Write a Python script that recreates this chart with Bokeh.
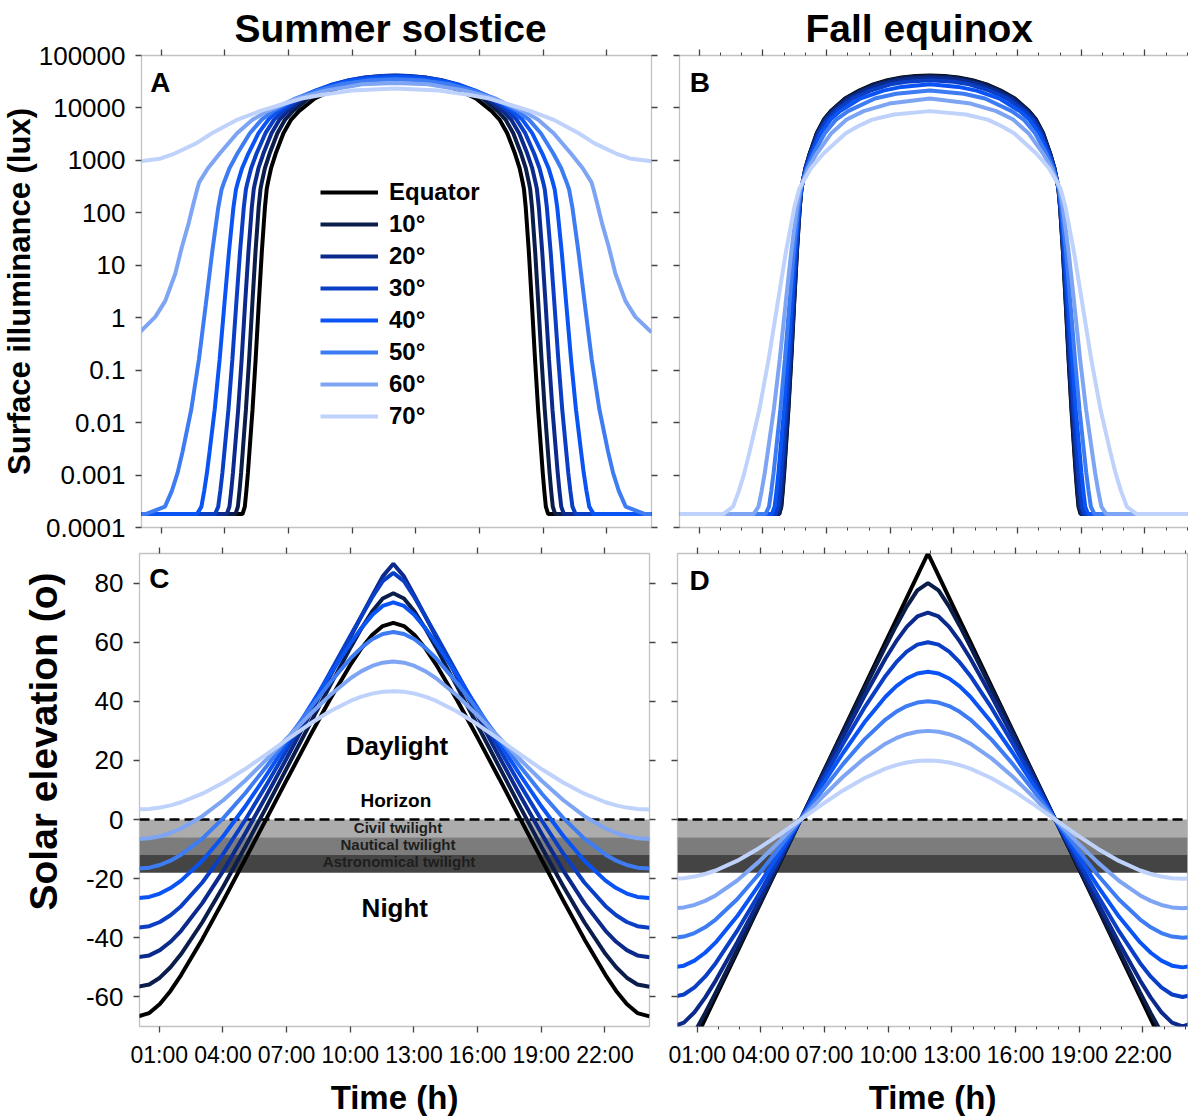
from bokeh.plotting import figure
from bokeh.models import (Range1d, LinearAxis, LogAxis, FixedTicker, Label, Legend,
                          LegendItem, BoxAnnotation, Span, Title)
from bokeh.layouts import column, row
from bokeh.embed import file_html
from bokeh.resources import INLINE

# ---------------------------------------------------------------- data
latitude_labels = ["Equator", "10°", "20°", "30°", "40°", "50°", "60°", "70°"]
latitude_colors = ["#000000", "#0b1d4a", "#0b2a8c", "#0a3ec4", "#0a54f5",
                   "#3d7cf2", "#7ea4f4", "#bfd2fb"]

x_tick_values = [1, 4, 7, 10, 13, 16, 19, 22]
x_tick_labels = ["01:00", "04:00", "07:00", "10:00", "13:00", "16:00", "19:00", "22:00"]
lux_tick_values = [0.0001, 0.001, 0.01, 0.1, 1, 10, 100, 1000, 10000, 100000]
lux_tick_labels = ["0.0001", "0.001", "0.01", "0.1", "1", "10", "100", "1000", "10000", "100000"]
elev_tick_values = [-60, -40, -20, 0, 20, 40, 60, 80]
elev_tick_labels = ["-60", "-40", "-20", "0", "20", "40", "60", "80"]

# Panel A: summer solstice, surface illuminance (lux)
sol_time_00 = [0, 4.828, 4.938, 5.011, 5.084, 5.157, 5.303, 5.448, 5.594, 5.739, 5.885, 5.97, 6.03, 6.175, 6.393, 6.757, 7.122, 7.489, 8.231, 8.995, 9.803, 10.745, 11.257, 12.03,
               12.803, 13.315, 14.257, 15.065, 15.829, 16.571, 16.938, 17.303, 17.667, 17.885, 18.03, 18.09, 18.175, 18.321, 18.466, 18.612, 18.757, 18.903, 18.976, 19.049, 19.122, 19.232, 24.1]
sol_lux_00 = [0.00018, 0.00018, 0.00025, 0.0005, 0.0011, 0.0028, 0.018, 0.16, 1.8, 18, 126, 282, 380, 710, 1350, 3300, 6000, 8700, 15100, 21400, 28200, 33900, 35500, 36600,
              35500, 33900, 28200, 21400, 15100, 8700, 6000, 3300, 1350, 710, 380, 282, 126, 18, 1.8, 0.16, 0.018, 0.0028, 0.0011, 0.0005, 0.00025, 0.00018, 0.00018]
sol_time_10 = [0, 4.497, 4.611, 4.688, 4.763, 4.84, 4.991, 5.141, 5.291, 5.441, 5.589, 5.676, 5.738, 5.885, 6.107, 6.473, 6.838, 7.202, 7.929, 8.657, 9.395, 10.155, 10.996, 11.423, 12.03,
               12.637, 13.064, 13.905, 14.665, 15.403, 16.131, 16.858, 17.222, 17.587, 17.953, 18.175, 18.322, 18.384, 18.471, 18.619, 18.769, 18.919, 19.069, 19.22, 19.297, 19.372, 19.449, 19.563, 24.1]
sol_lux_10 = [0.00018, 0.00018, 0.00025, 0.0005, 0.0011, 0.0028, 0.018, 0.16, 1.8, 18, 126, 282, 380, 710, 1350, 3300, 6000, 8700, 15100, 21400, 28200, 33900, 38000, 39100, 39800,
              39100, 38000, 33900, 28200, 21400, 15100, 8700, 6000, 3300, 1350, 710, 380, 282, 126, 18, 1.8, 0.16, 0.018, 0.0028, 0.0011, 0.0005, 0.00025, 0.00018, 0.00018]
sol_time_20 = [0, 4.086, 4.213, 4.297, 4.379, 4.462, 4.627, 4.789, 4.949, 5.109, 5.267, 5.359, 5.425, 5.581, 5.813, 6.196, 6.575, 6.951, 7.695, 8.43, 9.159, 9.886, 10.613, 11.352, 12.03,
               12.708, 13.447, 14.174, 14.901, 15.63, 16.365, 17.109, 17.485, 17.864, 18.247, 18.479, 18.635, 18.701, 18.793, 18.951, 19.111, 19.271, 19.433, 19.598, 19.681, 19.763, 19.847, 19.974, 24.1]
sol_lux_20 = [0.00018, 0.00018, 0.00025, 0.0005, 0.0011, 0.0028, 0.018, 0.16, 1.8, 18, 126, 282, 380, 710, 1350, 3300, 6000, 8700, 15100, 21400, 28200, 33900, 38000, 40700, 41500,
              40700, 38000, 33900, 28200, 21400, 15100, 8700, 6000, 3300, 1350, 710, 380, 282, 126, 18, 1.8, 0.16, 0.018, 0.0028, 0.0011, 0.0005, 0.00025, 0.00018, 0.00018]
sol_time_30 = [0, 3.535, 3.685, 3.784, 3.881, 3.977, 4.167, 4.351, 4.533, 4.712, 4.889, 4.991, 5.063, 5.236, 5.491, 5.909, 6.318, 6.722, 7.515, 8.294, 9.066, 9.837, 10.617, 11.465, 12.03,
               12.595, 13.443, 14.223, 14.994, 15.766, 16.545, 17.338, 17.742, 18.151, 18.569, 18.824, 18.997, 19.069, 19.171, 19.348, 19.527, 19.709, 19.893, 20.083, 20.179, 20.276, 20.375, 20.525, 24.1]
sol_lux_30 = [0.00018, 0.00018, 0.00025, 0.0005, 0.0011, 0.0028, 0.018, 0.16, 1.8, 18, 126, 282, 380, 710, 1350, 3300, 6000, 8700, 15100, 21400, 28200, 33900, 38000, 40700, 41100,
              40700, 38000, 33900, 28200, 21400, 15100, 8700, 6000, 3300, 1350, 710, 380, 282, 126, 18, 1.8, 0.16, 0.018, 0.0028, 0.0011, 0.0005, 0.00025, 0.00018, 0.00018]
sol_time_40 = [0, 2.685, 2.893, 3.025, 3.153, 3.279, 3.52, 3.751, 3.975, 4.191, 4.401, 4.523, 4.608, 4.809, 5.105, 5.583, 6.047, 6.5, 7.386, 8.258, 9.134, 10.049, 11.145, 12.03,
               12.915, 14.011, 14.926, 15.802, 16.674, 17.56, 18.013, 18.477, 18.955, 19.251, 19.452, 19.537, 19.659, 19.869, 20.085, 20.309, 20.54, 20.781, 20.907, 21.035, 21.167, 21.375, 24.1]
sol_lux_40 = [0.00018, 0.00018, 0.00025, 0.0005, 0.0011, 0.0028, 0.018, 0.16, 1.8, 18, 126, 282, 380, 710, 1350, 3300, 6000, 8700, 15100, 21400, 28200, 33900, 38000, 38900,
              38000, 33900, 28200, 21400, 15100, 8700, 6000, 3300, 1350, 710, 380, 282, 126, 18, 1.8, 0.16, 0.018, 0.0028, 0.0011, 0.0005, 0.00025, 0.00018, 0.00018]
sol_time_50 = [0, 0.265, 1.177, 1.501, 1.77, 2.006, 2.417, 2.775, 3.101, 3.402, 3.687, 3.846, 3.957, 4.215, 4.587, 5.174, 5.733, 6.271, 7.319, 8.361, 9.461, 10.838, 12.03,
               13.222, 14.599, 15.699, 16.741, 17.789, 18.327, 18.886, 19.473, 19.845, 20.103, 20.214, 20.373, 20.658, 20.959, 21.285, 21.643, 22.054, 22.29, 22.559, 22.883, 23.795, 24.1]
sol_lux_50 = [0.00018, 0.00018, 0.00025, 0.0005, 0.0011, 0.0028, 0.018, 0.16, 1.8, 18, 126, 282, 380, 710, 1350, 3300, 6000, 8700, 15100, 21400, 28200, 33900, 35200,
              33900, 28200, 21400, 15100, 8700, 6000, 3300, 1350, 710, 380, 282, 126, 18, 1.8, 0.16, 0.018, 0.0028, 0.0011, 0.0005, 0.00025, 0.00018, 0.00018]
sol_time_60 = [0, 0.72, 1.19, 1.66, 1.97, 2.29, 2.52, 2.68, 2.785, 3.201, 3.756, 4.572, 5.312, 6.009, 7.351, 8.734, 10.48, 12.03,
               13.58, 15.326, 16.709, 18.051, 18.748, 19.488, 20.304, 20.859, 21.275, 21.38, 21.54, 21.77, 22.09, 22.4, 22.87, 23.34, 24.1]
sol_lux_60 = [0.53, 1.04, 2.1, 6.9, 22, 63, 151, 270, 380, 710, 1350, 3300, 6000, 8700, 15100, 21400, 28200, 30000,
              28200, 21400, 15100, 8700, 6000, 3300, 1350, 710, 380, 270, 151, 63, 22, 6.9, 2.1, 1.04, 0.53]
sol_time_70 = [0, 0.987, 1.632, 2.642, 3.387, 4.597, 5.643, 6.627, 7.611, 8.667, 9.963, 12.03,
               14.097, 15.393, 16.449, 17.433, 18.417, 19.463, 20.673, 21.418, 22.428, 23.073, 24.1]
sol_lux_70 = [960, 1090, 1350, 2110, 3300, 6000, 8700, 11500, 15100, 18000, 21400, 23500,
              21400, 18000, 15100, 11500, 8700, 6000, 3300, 2110, 1350, 1090, 960]

# Panel B: fall equinox, surface illuminance (lux)
equ_time_00 = [0, 4.77, 4.87, 4.937, 5.003, 5.07, 5.203, 5.337, 5.47, 5.603, 5.737, 5.815, 5.87, 6.003, 6.203, 6.537, 6.87, 7.203, 7.87, 8.537, 9.203, 9.87, 10.537, 11.203, 11.87,
               12.537, 13.203, 13.87, 14.537, 15.203, 15.87, 16.537, 16.87, 17.203, 17.537, 17.737, 17.87, 17.925, 18.003, 18.137, 18.27, 18.403, 18.537, 18.67, 18.737, 18.803, 18.87, 18.97, 24.1]
equ_lux_00 = [0.00018, 0.00018, 0.00025, 0.0005, 0.0011, 0.0028, 0.018, 0.16, 1.8, 18, 126, 282, 380, 710, 1350, 3300, 6000, 8700, 15100, 21400, 28200, 33900, 38000, 40700, 41700,
              40700, 38000, 33900, 28200, 21400, 15100, 8700, 6000, 3300, 1350, 710, 380, 282, 126, 18, 1.8, 0.16, 0.018, 0.0028, 0.0011, 0.0005, 0.00025, 0.00018, 0.00018]
equ_time_10 = [0, 4.753, 4.854, 4.922, 4.989, 5.057, 5.193, 5.328, 5.464, 5.599, 5.735, 5.814, 5.87, 6.005, 6.209, 6.547, 6.886, 7.225, 7.904, 8.586, 9.275, 9.974, 10.71, 11.215, 11.87,
               12.525, 13.03, 13.766, 14.465, 15.154, 15.836, 16.515, 16.854, 17.193, 17.531, 17.735, 17.87, 17.926, 18.005, 18.141, 18.276, 18.412, 18.547, 18.683, 18.751, 18.818, 18.886, 18.987, 24.1]
equ_lux_10 = [0.00018, 0.00018, 0.00025, 0.0005, 0.0011, 0.0028, 0.018, 0.16, 1.8, 18, 126, 282, 380, 710, 1350, 3300, 6000, 8700, 15100, 21400, 28200, 33900, 38000, 39600, 40700,
              39600, 38000, 33900, 28200, 21400, 15100, 8700, 6000, 3300, 1350, 710, 380, 282, 126, 18, 1.8, 0.16, 0.018, 0.0028, 0.0011, 0.0005, 0.00025, 0.00018, 0.00018]
equ_time_20 = [0, 4.697, 4.804, 4.875, 4.947, 5.018, 5.161, 5.302, 5.445, 5.586, 5.728, 5.811, 5.87, 6.012, 6.225, 6.579, 6.936, 7.293, 8.013, 8.747, 9.511, 10.348, 10.966, 11.87,
               12.774, 13.392, 14.229, 14.993, 15.727, 16.447, 16.804, 17.161, 17.515, 17.728, 17.87, 17.929, 18.012, 18.154, 18.295, 18.438, 18.579, 18.722, 18.793, 18.865, 18.936, 19.043, 24.1]
equ_lux_20 = [0.00018, 0.00018, 0.00025, 0.0005, 0.0011, 0.0028, 0.018, 0.16, 1.8, 18, 126, 282, 380, 710, 1350, 3300, 6000, 8700, 15100, 21400, 28200, 33900, 36300, 38000,
              36300, 33900, 28200, 21400, 15100, 8700, 6000, 3300, 1350, 710, 380, 282, 126, 18, 1.8, 0.16, 0.018, 0.0028, 0.0011, 0.0005, 0.00025, 0.00018, 0.00018]
equ_time_30 = [0, 4.594, 4.711, 4.789, 4.866, 4.944, 5.099, 5.253, 5.408, 5.562, 5.716, 5.806, 5.87, 6.024, 6.255, 6.641, 7.029, 7.421, 8.221, 9.065, 10.017, 10.749, 11.87,
               12.991, 13.723, 14.675, 15.519, 16.319, 16.711, 17.099, 17.485, 17.716, 17.87, 17.934, 18.024, 18.178, 18.332, 18.487, 18.641, 18.796, 18.874, 18.951, 19.029, 19.146, 24.1]
equ_lux_30 = [0.00018, 0.00018, 0.00025, 0.0005, 0.0011, 0.0028, 0.018, 0.16, 1.8, 18, 126, 282, 380, 710, 1350, 3300, 6000, 8700, 15100, 21400, 28200, 31500, 33900,
              31500, 28200, 21400, 15100, 8700, 6000, 3300, 1350, 710, 380, 282, 126, 18, 1.8, 0.16, 0.018, 0.0028, 0.0011, 0.0005, 0.00025, 0.00018, 0.00018]
equ_time_40 = [0, 4.419, 4.553, 4.643, 4.731, 4.82, 4.997, 5.172, 5.347, 5.521, 5.696, 5.798, 5.87, 6.044, 6.305, 6.743, 7.187, 7.638, 8.586, 9.673, 10.532, 11.87,
               13.208, 14.067, 15.154, 16.102, 16.553, 16.997, 17.435, 17.696, 17.87, 17.942, 18.044, 18.219, 18.393, 18.568, 18.743, 18.92, 19.009, 19.097, 19.187, 19.321, 24.1]
equ_lux_40 = [0.00018, 0.00018, 0.00025, 0.0005, 0.0011, 0.0028, 0.018, 0.16, 1.8, 18, 126, 282, 380, 710, 1350, 3300, 6000, 8700, 15100, 21400, 25200, 28200,
              25200, 21400, 15100, 8700, 6000, 3300, 1350, 710, 380, 282, 126, 18, 1.8, 0.16, 0.018, 0.0028, 0.0011, 0.0005, 0.00025, 0.00018, 0.00018]
equ_time_50 = [0, 4.122, 4.287, 4.396, 4.504, 4.612, 4.825, 5.036, 5.246, 5.455, 5.663, 5.784, 5.87, 6.077, 6.39, 6.915, 7.453, 8.013, 9.275, 10.279, 11.87,
               13.461, 14.465, 15.727, 16.287, 16.825, 17.35, 17.663, 17.87, 17.956, 18.077, 18.285, 18.494, 18.704, 18.915, 19.128, 19.236, 19.344, 19.453, 19.618, 24.1]
equ_lux_50 = [0.00018, 0.00018, 0.00025, 0.0005, 0.0011, 0.0028, 0.018, 0.16, 1.8, 18, 126, 282, 380, 710, 1350, 3300, 6000, 8700, 15100, 18600, 21400,
              18600, 15100, 8700, 6000, 3300, 1350, 710, 380, 282, 126, 18, 1.8, 0.16, 0.018, 0.0028, 0.0011, 0.0005, 0.00025, 0.00018, 0.00018]
equ_time_60 = [0, 3.563, 3.792, 3.941, 4.087, 4.232, 4.515, 4.793, 5.066, 5.335, 5.603, 5.759, 5.87, 6.137, 6.539, 7.225, 7.948, 8.747, 9.954, 11.87,
               13.786, 14.993, 15.792, 16.515, 17.201, 17.603, 17.87, 17.981, 18.137, 18.405, 18.674, 18.947, 19.225, 19.508, 19.653, 19.799, 19.948, 20.177, 24.1]
equ_lux_60 = [0.00018, 0.00018, 0.00025, 0.0005, 0.0011, 0.0028, 0.018, 0.16, 1.8, 18, 126, 282, 380, 710, 1350, 3300, 6000, 8700, 12100, 15100,
              12100, 8700, 6000, 3300, 1350, 710, 380, 282, 126, 18, 1.8, 0.16, 0.018, 0.0028, 0.0011, 0.0005, 0.00025, 0.00018, 0.00018]
equ_time_70 = [0, 2.127, 2.592, 2.869, 3.127, 3.374, 3.836, 4.269, 4.684, 5.085, 5.479, 5.708, 5.87, 6.26, 6.855, 7.904, 8.487, 9.148, 10.179, 11.87,
               13.561, 14.592, 15.253, 15.836, 16.885, 17.48, 17.87, 18.032, 18.261, 18.655, 19.056, 19.471, 19.904, 20.366, 20.613, 20.871, 21.148, 21.613, 24.1]
equ_lux_70 = [0.00018, 0.00018, 0.00025, 0.0005, 0.0011, 0.0028, 0.018, 0.16, 1.8, 18, 126, 282, 380, 710, 1350, 3300, 4470, 6000, 7500, 8700,
              7500, 6000, 4470, 3300, 1350, 710, 380, 282, 126, 18, 1.8, 0.16, 0.018, 0.0028, 0.0011, 0.0005, 0.00025, 0.00018, 0.00018]

# Panel C: summer solstice, solar elevation (deg)
elev_time_sol = [0, 0.53, 1.03, 1.53, 2.03, 3.03, 4.03, 5.03, 6.03, 7.03, 8.03, 9.03, 10.03, 10.53, 11.03, 11.53, 12.03,
                 12.53, 13.03, 13.53, 14.03, 15.03, 16.03, 17.03, 18.03, 19.03, 20.03, 21.03, 22.03, 22.53, 23.03, 23.53, 24.1]
sol_elev_00 = [-66.56, -65.46, -62.41, -57.98, -52.61, -40.45, -27.31, -13.74, 0, 13.74, 27.31, 40.45, 52.61, 57.98, 62.41, 65.45, 66.56,
               65.45, 62.41, 57.98, 52.61, 40.45, 27.31, 13.74, 0, -13.74, -27.31, -40.45, -52.61, -57.98, -62.41, -65.46, -66.56]
sol_elev_10 = [-56.56, -55.78, -53.49, -49.97, -45.51, -34.74, -22.5, -9.49, 3.96, 17.64, 31.39, 45.07, 58.4, 64.68, 70.37, 74.79, 76.56,
               74.79, 70.37, 64.68, 58.4, 45.07, 31.39, 17.64, 3.96, -9.49, -22.5, -34.74, -45.51, -49.97, -53.49, -55.78, -56.56]
sol_elev_20 = [-46.56, -45.95, -44.16, -41.34, -37.63, -28.27, -17.16, -5.0, 7.82, 21.06, 34.55, 48.23, 61.98, 68.86, 75.67, 82.27, 86.56,
               82.27, 75.67, 68.86, 61.98, 48.23, 34.55, 21.06, 7.82, -5.0, -17.16, -28.27, -37.63, -41.34, -44.16, -45.95, -46.56]
sol_elev_30 = [-36.56, -36.08, -34.65, -32.36, -29.29, -21.28, -11.44, -0.39, 11.47, 23.87, 36.6, 49.53, 62.51, 68.9, 75.11, 80.64, 83.44,
               80.64, 75.11, 68.9, 62.51, 49.53, 36.6, 23.87, 11.47, -0.39, -11.44, -21.28, -29.29, -32.36, -34.65, -36.08, -36.56]
sol_elev_40 = [-26.56, -26.17, -25.04, -23.18, -20.66, -13.96, -5.49, 4.23, 14.82, 25.95, 37.38, 48.83, 59.81, 64.83, 69.16, 72.25, 73.44,
               72.25, 69.16, 64.83, 59.81, 48.83, 37.38, 25.95, 14.82, 4.23, -5.49, -13.96, -20.66, -23.18, -25.04, -26.17, -26.56]
sol_elev_50 = [-16.56, -16.27, -15.37, -13.9, -11.89, -6.45, 0.56, 8.74, 17.74, 27.22, 36.84, 46.2, 54.64, 58.17, 60.98, 62.8, 63.44,
               62.8, 60.98, 58.17, 54.64, 46.2, 36.84, 27.22, 17.74, 8.74, 0.56, -6.45, -11.89, -13.9, -15.37, -16.27, -16.56]
sol_elev_60 = [-6.56, -6.34, -5.66, -4.55, -3.03, 1.15, 6.61, 13.05, 20.15, 27.6, 35.02, 41.98, 47.89, 50.22, 51.97, 53.07, 53.44,
               53.07, 51.97, 50.22, 47.89, 41.98, 35.02, 27.6, 20.15, 13.05, 6.61, 1.15, -3.03, -4.55, -5.66, -6.34, -6.56]
sol_elev_70 = [3.44, 3.59, 4.05, 4.81, 5.85, 8.74, 12.53, 17.01, 21.95, 27.07, 32.05, 36.56, 40.21, 41.58, 42.6, 43.23, 43.44,
               43.23, 42.6, 41.58, 40.21, 36.56, 32.05, 27.07, 21.95, 17.01, 12.53, 8.74, 5.85, 4.81, 4.05, 3.59, 3.44]

# Panel D: fall equinox, solar elevation (deg)
elev_time_equ = [-0.13, 0.37, 0.87, 1.37, 1.87, 2.87, 3.87, 4.87, 5.87, 6.87, 7.87, 8.87, 9.87, 10.37, 10.87, 11.37, 11.87,
                 12.37, 12.87, 13.37, 13.87, 14.87, 15.87, 16.87, 17.87, 18.87, 19.87, 20.87, 21.87, 22.37, 22.87, 23.37, 23.87, 24.37]
equ_elev_00 = [-90, -82.5, -75, -67.5, -60, -45, -30, -15, 0, 15, 30, 45, 60, 67.5, 75, 82.5, 90,
               82.5, 75, 67.5, 60, 45, 30, 15, 0, -15, -30, -45, -60, -67.5, -75, -82.5, -90, -82.5]
equ_elev_10 = [-80, -77.52, -72.04, -65.49, -58.53, -44.13, -29.5, -14.77, 0, 14.77, 29.5, 44.13, 58.53, 65.49, 72.04, 77.52, 80,
               77.52, 72.04, 65.49, 58.53, 44.13, 29.5, 14.77, 0, -14.77, -29.5, -44.13, -58.53, -65.49, -72.04, -77.52, -80, -77.52]
equ_elev_20 = [-70, -68.7, -65.19, -60.25, -54.47, -41.64, -28.03, -14.08, 0, 14.08, 28.03, 41.64, 54.47, 60.25, 65.19, 68.7, 70,
               68.7, 65.19, 60.25, 54.47, 41.64, 28.03, 14.08, 0, -14.08, -28.03, -41.64, -54.47, -60.25, -65.19, -68.7, -70, -68.7]
equ_elev_30 = [-60, -59.17, -56.78, -53.14, -48.59, -37.76, -25.66, -12.95, 0, 12.95, 25.66, 37.76, 48.59, 53.14, 56.78, 59.17, 60,
               59.17, 56.78, 53.14, 48.59, 37.76, 25.66, 12.95, 0, -12.95, -25.66, -37.76, -48.59, -53.14, -56.78, -59.17, -60, -59.17]
equ_elev_40 = [-50, -49.42, -47.72, -45.05, -41.56, -32.8, -22.52, -11.44, 0, 11.44, 22.52, 32.8, 41.56, 45.05, 47.72, 49.42, 50,
               49.42, 47.72, 45.05, 41.56, 32.8, 22.52, 11.44, 0, -11.44, -22.52, -32.8, -41.56, -45.05, -47.72, -49.42, -50, -49.42]
equ_elev_50 = [-40, -39.59, -38.38, -36.44, -33.83, -27.03, -18.75, -9.58, 0, 9.58, 18.75, 27.03, 33.83, 36.44, 38.38, 39.59, 40,
               39.59, 38.38, 36.44, 33.83, 27.03, 18.75, 9.58, 0, -9.58, -18.75, -27.03, -33.83, -36.44, -38.38, -39.59, -40, -39.59]
equ_elev_60 = [-30, -29.72, -28.88, -27.51, -25.66, -20.7, -14.48, -7.44, 0, 7.44, 14.48, 20.7, 25.66, 27.51, 28.88, 29.72, 30,
               29.72, 28.88, 27.51, 25.66, 20.7, 14.48, 7.44, 0, -7.44, -14.48, -20.7, -25.66, -27.51, -28.88, -29.72, -30, -29.72]
equ_elev_70 = [-20, -19.82, -19.29, -18.42, -17.23, -13.99, -9.85, -5.08, 0, 5.08, 9.85, 13.99, 17.23, 18.42, 19.29, 19.82, 20,
               19.82, 19.29, 18.42, 17.23, 13.99, 9.85, 5.08, 0, -5.08, -9.85, -13.99, -17.23, -18.42, -19.29, -19.82, -20, -19.82]

# twilight bands (deg): civil, nautical, astronomical
band_names = ["Civil twilight", "Nautical twilight", "Astronomical twilight"]
band_top = [0, -6, -12]
band_bottom = [-6, -12, -18]
band_colors = ["#acacac", "#7c7c7c", "#444444"]

sol_time = [sol_time_00, sol_time_10, sol_time_20, sol_time_30, sol_time_40, sol_time_50, sol_time_60, sol_time_70]
sol_lux = [sol_lux_00, sol_lux_10, sol_lux_20, sol_lux_30, sol_lux_40, sol_lux_50, sol_lux_60, sol_lux_70]
equ_time = [equ_time_00, equ_time_10, equ_time_20, equ_time_30, equ_time_40, equ_time_50, equ_time_60, equ_time_70]
equ_lux = [equ_lux_00, equ_lux_10, equ_lux_20, equ_lux_30, equ_lux_40, equ_lux_50, equ_lux_60, equ_lux_70]
sol_elev = [sol_elev_00, sol_elev_10, sol_elev_20, sol_elev_30, sol_elev_40, sol_elev_50, sol_elev_60, sol_elev_70]
equ_elev = [equ_elev_00, equ_elev_10, equ_elev_20, equ_elev_30, equ_elev_40, equ_elev_50, equ_elev_60, equ_elev_70]

# ---------------------------------------------------------------- styling
FONT = "Liberation Sans"
TICK_COLOR = "#444444"
FRAME_COLOR = "#c2c2c2"
X0, X1 = 0.07, 24.1
LINE_W = 4


def make_fig(log_y, y0, y1, fh, bl, br, bt, bb):
    p = figure(x_range=Range1d(X0, X1), y_range=Range1d(y0, y1),
               y_axis_type="log" if log_y else "linear",
               x_axis_location=None, y_axis_location=None,
               frame_width=510, frame_height=fh,
               min_border_left=bl, min_border_right=br,
               min_border_top=bt, min_border_bottom=bb,
               output_backend="svg", toolbar_location=None)
    p.grid.grid_line_color = None
    p.outline_line_color = FRAME_COLOR
    p.outline_line_width = 1.3
    p.background_fill_color = "white"
    p.border_fill_color = "white"
    return p


def style(ax, ticks, labels, show_labels, minor):
    ax.axis_line_color = None
    ax.major_tick_line_color = TICK_COLOR
    ax.major_tick_line_width = 1.3
    ax.major_tick_in = 0
    ax.major_tick_out = 6
    if minor:
        ax.minor_tick_line_color = TICK_COLOR
        ax.minor_tick_line_width = 1
        ax.minor_tick_in = 0
        ax.minor_tick_out = 3
    else:
        ax.minor_tick_line_color = None
    if show_labels:
        ax.major_label_overrides = dict(zip(ticks, labels))
        ax.major_label_text_font = FONT
        ax.major_label_text_color = "black"
    else:
        # tick marks only on this side of the frame
        ax.major_label_overrides = {t: "" for t in ticks}
        ax.major_label_text_font_size = "1px"
        ax.major_label_text_color = None
        ax.major_label_standoff = 0


def add_x(p, place, labels, minor):
    t = FixedTicker(ticks=x_tick_values, minor_ticks=list(range(0, 25)) if minor else [])
    ax = LinearAxis(ticker=t)
    style(ax, x_tick_values, x_tick_labels, labels, minor)
    if labels:
        ax.major_label_text_font_size = "23px"
        ax.major_label_standoff = 9
    p.add_layout(ax, place)


def add_y(p, place, labels, log_y):
    if log_y:
        ax = LogAxis(ticker=FixedTicker(ticks=lux_tick_values, minor_ticks=[]))
        style(ax, lux_tick_values, lux_tick_labels, labels, False)
    else:
        ax = LinearAxis(ticker=FixedTicker(ticks=elev_tick_values, minor_ticks=[]))
        style(ax, elev_tick_values, elev_tick_labels, labels, False)
    if labels:
        ax.major_label_text_font_size = "26px"
        ax.major_label_standoff = 10
    p.add_layout(ax, place)


def title(p, place, s, size, align="center", offset=0, standoff=0):
    p.add_layout(Title(text=s, align=align, offset=offset, standoff=standoff,
                       text_font=FONT, text_font_size=size, text_font_style="bold",
                       text_color="black"), place)


def text(p, x, y, s, size, align="center", color="black"):
    p.add_layout(Label(x=x, y=y, text=s, text_font=FONT, text_font_size=size,
                       text_font_style="bold", text_align=align,
                       text_baseline="middle", text_color=color))


# ---------------------------------------------------------------- panel A
fa = make_fig(True, 1e-4, 1e5, 472, 139, 14, 55, 18)
add_x(fa, "above", False, False)
add_x(fa, "below", False, False)
add_y(fa, "left", True, True)
add_y(fa, "right", False, True)
title(fa, "above", "Summer solstice", "39px", align="left", offset=93)
title(fa, "left", "Surface illuminance (lux)", "31px", standoff=-2)
items = []
for tt, vv, c, lab in zip(sol_time, sol_lux, latitude_colors, latitude_labels):
    r = fa.line(tt, vv, line_color=c, line_width=LINE_W)
    items.append(LegendItem(label=lab, renderers=[r]))
leg = Legend(items=items, location=(179, 97), orientation="vertical",
             label_text_font=FONT, label_text_font_size="24px", label_text_font_style="bold",
             label_text_color="black",
             glyph_width=58, glyph_height=20, label_height=20, label_standoff=11,
             spacing=4, padding=0, margin=0, border_line_color=None,
             background_fill_alpha=0)
fa.add_layout(leg)
text(fa, 0.48, 31000, "A", "28px", align="left")

# ---------------------------------------------------------------- panel B
fb = make_fig(True, 1e-4, 1e5, 472, 14, 1, 55, 18)
add_x(fb, "above", False, True)
add_x(fb, "below", False, True)
add_y(fb, "left", False, True)
title(fb, "above", "Fall equinox", "39px", align="left", offset=126)
for tt, vv, c in zip(equ_time, equ_lux, latitude_colors):
    fb.line(tt, vv, line_color=c, line_width=LINE_W)
text(fb, 0.555, 31000, "B", "28px", align="left")


# ---------------------------------------------------------------- panels C, D
def bands(p):
    for top, bot, col in zip(band_top, band_bottom, band_colors):
        p.add_layout(BoxAnnotation(top=top, bottom=bot, fill_color=col, fill_alpha=1,
                                   line_color=None, level="underlay"))
    p.add_layout(Span(location=0, dimension="width", line_color="black",
                      line_width=2.5, line_dash="10 5", level="underlay"))


fc = make_fig(False, -70, 90, 473, 139, 14, 8, 94)
bands(fc)
add_x(fc, "above", False, False)
add_x(fc, "below", True, False)
add_y(fc, "left", True, False)
add_y(fc, "right", False, False)
title(fc, "below", "Time (h)", "33px", standoff=12)
title(fc, "left", "Solar elevation (o)", "39px", align="left", offset=116, standoff=35)
for ee, c in zip(sol_elev, latitude_colors):
    fc.line(elev_time_sol, ee, line_color=c, line_width=LINE_W)
text(fc, 0.53, 81.4, "C", "28px", align="left")
text(fc, 12.2, 24.9, "Daylight", "26px")
text(fc, 12.15, 6.44, "Horizon", "19px")
text(fc, 12.25, -2.69, band_names[0], "15px", color="#1e1e1e")
text(fc, 12.25, -8.34, band_names[1], "15px", color="#1e1e1e")
text(fc, 12.3, -14.2, band_names[2], "15px", color="#1e1e1e")
text(fc, 12.1, -29.9, "Night", "26px")

fd = make_fig(False, -70, 90, 473, 14, 1, 8, 94)
bands(fd)
add_x(fd, "above", False, True)
add_x(fd, "below", True, True)
add_y(fd, "left", False, False)
title(fd, "below", "Time (h)", "33px", standoff=12)
for ee, c in zip(equ_elev, latitude_colors):
    fd.line(elev_time_equ, ee, line_color=c, line_width=LINE_W)
text(fd, 0.635, 81.0, "D", "28px", align="left")

layout = column(row(fa, fb), row(fc, fd))
open("out.html", "w").write(file_html(layout, INLINE))
